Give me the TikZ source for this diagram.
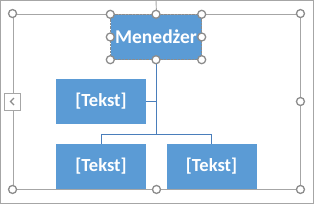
\documentclass[tikz,border=0pt]{standalone}
\usepackage{fontspec}
\setmainfont{Carlito}
\definecolor{smartblue}{HTML}{5B9BD5}
\definecolor{linkblue}{HTML}{4A7EBB}
\definecolor{handlegray}{HTML}{8C8C8C}
\definecolor{framegray}{HTML}{A6A6A6}
\usetikzlibrary{positioning}

\begin{document}
\begin{tikzpicture}[x=1pt, y=-1pt,
		box/.style={fill=smartblue, text=white, minimum width=90pt, minimum height=45pt, inner sep=0pt, font=\fontsize{18.5}{20}\selectfont\bfseries},
		link/.style={draw=linkblue, line width=1pt},
		frame/.style={draw=framegray, line width=0.9pt, minimum width=287pt, minimum height=175pt, inner sep=0pt},
		handle/.style={circle, draw=handlegray, fill=white, line width=1.3pt, minimum size=8pt, inner sep=0pt}
	]
	\useasboundingbox (0,0) rectangle (314,204);
	\draw[framegray, line width=0.9pt] (0.5,0.5) rectangle (313.5,203.5);

	% selection frame of the diagram
	\node[frame] (frame) at (156.5,101.5) {};
	\coordinate (rot) at (156,0);
	\draw[framegray, line width=0.9pt] (rot) -- (frame.north);

	% boxes
	\node[box, minimum width=91pt, draw=handlegray, densely dotted, font=\fontsize{19.5}{21}\selectfont\bfseries] (manager) at (156,37) {Menedżer};
	\node[box] (assist) at (101,101) {[Tekst]};
	\node[box] (subleft) at (101,166.5) {[Tekst]};
	\node[box] (subright) at (211.5,166.5) {[Tekst]};

	% connectors
	\coordinate (bus) at (156,134);
	\draw[link] (manager.south) -- (bus);
	\draw[link] (assist.east) -- (assist.east -| bus);
	\draw[link] (subleft.north) -- (subleft.north |- bus) -- (subright.north |- bus) -- (subright.north);

	% handles
	\foreach \p in {north west, north east, south east, south west, east, south}
		\node[handle] (f-\p) at (frame.\p) {};
	\foreach \p in {north west, north, north east, east, south east, south, south west, west}
		\node[handle] (m-\p) at (manager.\p) {};

	% collapse tab
	\node[draw=framegray, fill=white, line width=0.8pt, minimum width=16pt, minimum height=17pt, inner sep=0pt] (tab) at (12,101.5) {};
	\draw[handlegray, line width=1.2pt] ([xshift=2pt,yshift=-3.5pt]tab.center) -- ([xshift=-1.5pt]tab.center) -- ([xshift=2pt,yshift=3.5pt]tab.center);
\end{tikzpicture}
\end{document}
